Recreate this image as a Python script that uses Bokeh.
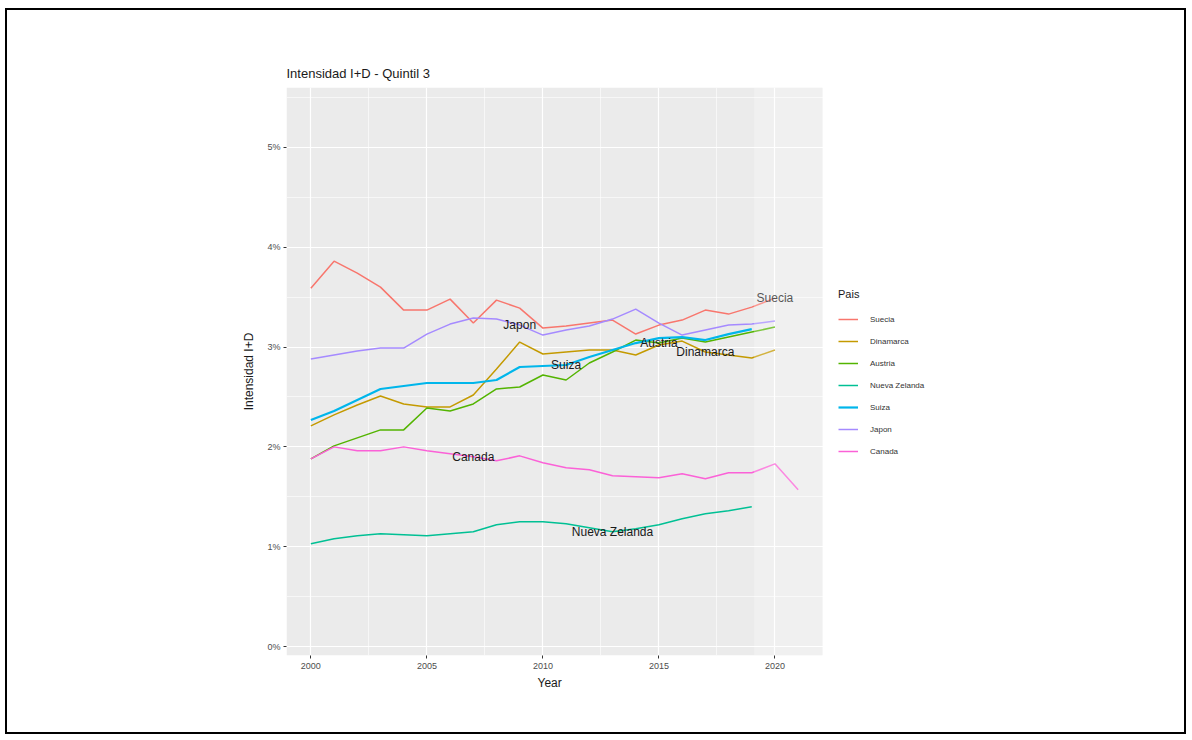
from bokeh.plotting import figure
from bokeh.models import (FixedTicker, PrintfTickFormatter, Legend, LegendItem,
                          ColumnDataSource, BoxAnnotation, InlineStyleSheet, Title)
from bokeh.core.properties import value
from bokeh.embed import file_html
from bokeh.resources import INLINE

# ---------------- data (R&D intensity, % of GDP) ----------------
countries = ["Suecia", "Dinamarca", "Austria", "Nueva Zelanda", "Suiza", "Japon", "Canada"]
colors = ["#F8766D", "#C49A00", "#53B400", "#00C094", "#00B6EB", "#A58AFF", "#FB61D7"]

suecia_years = list(range(2000, 2021))
suecia = [3.59, 3.86, 3.74, 3.60, 3.37, 3.37, 3.48, 3.24, 3.47, 3.39, 3.19,
          3.21, 3.24, 3.27, 3.13, 3.22, 3.27, 3.37, 3.33, 3.40, 3.49]

dinamarca_years = list(range(2000, 2021))
dinamarca = [2.21, 2.32, 2.42, 2.51, 2.43, 2.40, 2.40, 2.52, 2.78, 3.05, 2.93,
             2.95, 2.97, 2.97, 2.92, 3.02, 3.06, 2.95, 2.92, 2.89, 2.97]

austria_years = list(range(2000, 2021))
austria = [1.88, 2.01, 2.09, 2.17, 2.17, 2.39, 2.36, 2.43, 2.58, 2.60, 2.72,
           2.67, 2.84, 2.95, 3.07, 3.04, 3.09, 3.05, 3.10, 3.15, 3.20]

nueva_zelanda_years = list(range(2000, 2020))
nueva_zelanda = [1.03, 1.08, 1.11, 1.13, 1.12, 1.11, 1.13, 1.15, 1.22, 1.25,
                 1.25, 1.23, 1.19, 1.15, 1.18, 1.22, 1.28, 1.33, 1.36, 1.40]

suiza_years = list(range(2000, 2020))
suiza = [2.27, 2.36, 2.47, 2.58, 2.61, 2.64, 2.64, 2.64, 2.67, 2.80,
         2.81, 2.82, 2.90, 2.97, 3.04, 3.09, 3.10, 3.07, 3.13, 3.18]

japon_years = list(range(2000, 2021))
japon = [2.88, 2.92, 2.96, 2.99, 2.99, 3.13, 3.23, 3.29, 3.28, 3.22, 3.12,
         3.17, 3.21, 3.28, 3.38, 3.24, 3.12, 3.17, 3.22, 3.23, 3.26]

canada_years = list(range(2000, 2022))
canada = [1.88, 2.00, 1.96, 1.96, 2.00, 1.96, 1.93, 1.90, 1.86, 1.91, 1.84,
          1.79, 1.77, 1.71, 1.70, 1.69, 1.73, 1.68, 1.74, 1.74, 1.83, 1.57]

label_years = [2020, 2009, 2011, 2015, 2017, 2007, 2013]
label_names = ["Suecia", "Japon", "Suiza", "Austria", "Dinamarca", "Canada", "Nueva Zelanda"]

y_ticks = [0, 1, 2, 3, 4, 5]
y_minor = [0.5, 1.5, 2.5, 3.5, 4.5, 5.5]
x_ticks = [2000, 2005, 2010, 2015, 2020]
x_minor = [2002.5, 2007.5, 2012.5, 2017.5]

series = {
    "Suecia": (suecia_years, suecia),
    "Dinamarca": (dinamarca_years, dinamarca),
    "Austria": (austria_years, austria),
    "Nueva Zelanda": (nueva_zelanda_years, nueva_zelanda),
    "Suiza": (suiza_years, suiza),
    "Japon": (japon_years, japon),
    "Canada": (canada_years, canada),
}

FONT = "Liberation Sans"
PANEL_X = (1998.95, 2022.05)   # visible grey panel (x)

# the plotting frame is wider than the grey panel so that the legend can sit in it
p = figure(width=1190, height=738, output_backend="svg", toolbar_location=None,
           x_range=(PANEL_X[0], 2029.72), y_range=(-0.09, 5.60),
           min_border_left=286, min_border_right=190,
           min_border_top=87, min_border_bottom=83,
           background_fill_color="white", border_fill_color="white",
           outline_line_color=None)
# outer black frame of the picture, drawn as an overlay
p.stylesheets = [InlineStyleSheet(css=(
    ":host { position: relative; }\n"
    ":host::after { content: ''; position: absolute; left: 5px; top: 8px; "
    "width: 1181px; height: 726px; border: 2px solid black; box-sizing: border-box; "
    "pointer-events: none; z-index: 100; }"))]

# grey panel background (below the grid)
p.add_layout(BoxAnnotation(right=PANEL_X[1], fill_color="#EBEBEB", fill_alpha=1.0,
                           line_color=None, level="image"))

# title
p.title.text = "Intensidad I+D - Quintil 3"
p.title.text_font = FONT
p.title.text_font_size = "13px"
p.title.text_font_style = "normal"
p.title.text_color = "#1A1A1A"
p.title.align = "left"
p.title.offset = 0
p.title.standoff = 13

# grids
p.xgrid.ticker = FixedTicker(ticks=x_ticks, minor_ticks=x_minor)
p.ygrid.ticker = FixedTicker(ticks=y_ticks, minor_ticks=y_minor)
for g in (p.xgrid, p.ygrid):
    g.grid_line_color = "white"
    g.grid_line_width = 1.2
    g.minor_grid_line_color = "white"
    g.minor_grid_line_width = 0.6

# axes
p.xaxis.ticker = FixedTicker(ticks=x_ticks)
p.yaxis.ticker = FixedTicker(ticks=y_ticks)
p.yaxis.formatter = PrintfTickFormatter(format="%d%%")
for ax in (p.xaxis[0], p.yaxis[0]):
    ax.axis_line_color = None
    ax.major_tick_line_color = "#333333"
    ax.major_tick_in = 0
    ax.major_tick_out = 3
    ax.minor_tick_line_color = None
    ax.major_label_text_font = FONT
    ax.major_label_text_font_size = "9px"
    ax.major_label_text_color = "#4D4D4D"
    ax.axis_label_text_font = FONT
    ax.axis_label_text_font_size = "12px"
    ax.axis_label_text_font_style = "normal"
    ax.axis_label_text_color = "#1A1A1A"
p.yaxis.axis_label = "Intensidad I+D"
p.xaxis.major_label_standoff = 4
p.yaxis.major_label_standoff = 3
p.yaxis.axis_label_standoff = 8

# x-axis title, centred under the grey panel
p.add_layout(Title(text="Year", align="left", offset=251, standoff=4,
                   text_font=FONT, text_font_size="12px", text_font_style="normal",
                   text_color="#1A1A1A"), "below")

# lines
items = []
for name, col in zip(countries, colors):
    yrs, vals = series[name]
    lw = 2.2 if name == "Suiza" else 1.5
    r = p.line(yrs, vals, line_color=col, line_width=lw)
    items.append(LegendItem(label=name, renderers=[r]))

# slightly washed-out strip at the right end (as in the reference)
p.add_layout(BoxAnnotation(left=2019.1, right=PANEL_X[1], fill_color="white",
                           fill_alpha=0.25, line_color=None))

# country labels placed on data points
lab_vals = []
for name, yr in zip(label_names, label_years):
    yrs, vals = series[name]
    lab_vals.append(vals[yrs.index(yr)])
src = ColumnDataSource(dict(x=label_years, y=lab_vals, t=label_names))
p.text("x", "y", text="t", source=src, text_font=value(FONT), text_font_size="12px",
       text_color="#1A1A1A", text_align="center", text_baseline="middle")

legend = Legend(items=items, location=(552, 193))
legend.title = "Pais"
legend.title_text_font = FONT
legend.title_text_font_size = "11px"
legend.title_text_font_style = "normal"
legend.title_text_color = "#1A1A1A"
legend.title_standoff = 8
legend.label_text_font = FONT
legend.label_text_font_size = "8px"
legend.label_text_color = "#333333"
legend.glyph_width = 20
legend.glyph_height = 22
legend.label_height = 22
legend.label_standoff = 12
legend.spacing = 0
legend.padding = 0
legend.margin = 0
legend.border_line_color = None
legend.background_fill_alpha = 0
p.add_layout(legend)

open("out.html", "w").write(file_html(p, INLINE))
